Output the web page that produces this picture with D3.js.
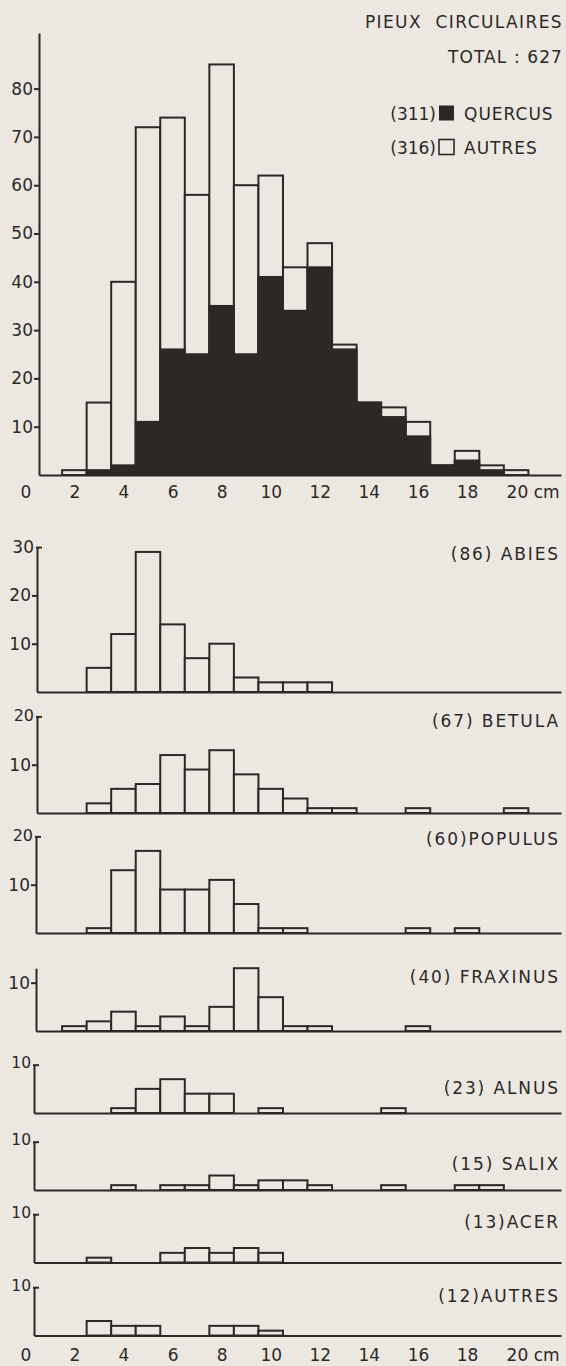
<!DOCTYPE html>
<html><head><meta charset="utf-8">
<script src="https://cdn.jsdelivr.net/npm/d3@7"></script>
<style>
body{margin:0;background:#ece8e1}
svg{display:block}
text{font-family:"DejaVu Sans",sans-serif;fill:#2b2826}
</style>
</head><body>
<svg id="c" width="566" height="1366"></svg>
<script>
// ---------- DATA ----------
const diameters = [2,3,4,5,6,7,8,9,10,11,12,13,14,15,16,17,18,19,20]; // cm
const totalAll  = [1,15,40,72,74,58,85,60,62,43,48,27,15,14,11,2,5,2,1];
const quercus   = [0,1,2,11,26,25,35,25,41,34,43,26,15,12,8,2,3,1,0];
const abies     = [0,5,12,29,14,7,10,3,2,2,2,0,0,0,0,0,0,0,0];
const betula    = [0,2,5,6,12,9,13,8,5,3,1,1,0,0,1,0,0,0,1];
const populus   = [0,1,13,17,9,9,11,6,1,1,0,0,0,0,1,0,1,0,0];
const fraxinus  = [1,2,4,1,3,1,5,13,7,1,1,0,0,0,1,0,0,0,0];
const alnus     = [0,0,1,5,7,4,4,0,1,0,0,0,0,1,0,0,0,0,0];
const salix     = [0,0,1,0,1,1,3,1,2,2,1,0,0,1,0,0,1,1,0];
const acer      = [0,1,0,0,2,3,2,3,2,0,0,0,0,0,0,0,0,0,0];
const autres    = [0,3,2,2,0,0,2,2,1,0,0,0,0,0,0,0,0,0,0];
const panelNames = ["(86) ABIES","(67) BETULA","(60)POPULUS","(40) FRAXINUS","(23) ALNUS","(15) SALIX","(13)ACER","(12)AUTRES"];
const panelValues = [abies,betula,populus,fraxinus,alnus,salix,acer,autres];
const panelTicks = [[10,20,30],[10,20],[10,20],[10],[10],[10],[10],[10]];
const topTicks = [10,20,30,40,50,60,70,80];
const xTicks = [0,2,4,6,8,10,12,14,16,18,20];
const title1 = "PIEUX  CIRCULAIRES", title2 = "TOTAL : 627";
const legendCounts = ["(311)","(316)"], legendNames = ["QUERCUS","AUTRES"];

// ---------- LAYOUT ----------
const INK = "#2b2826", PAPER = "#ece8e1";
const K = 4.83;            // px per count
const xRight = 561;
const layout = [
  {base:692,  ax:37, max:30, hook:true,  hookFont:17, hookDy:0},
  {base:813,  ax:37, max:20, hook:true,  hookFont:16, hookDy:-1},
  {base:933,  ax:36, max:20, hook:true,  hookFont:16, hookDy:-1},
  {base:1031, ax:36, max:13, hook:false},
  {base:1113, ax:34, max:10, hook:true,  hookFont:15.5, hookDy:-2},
  {base:1190, ax:34, max:10, hook:true,  hookFont:15.5, hookDy:-2},
  {base:1262.5,ax:34,max:10, hook:true,  hookFont:15.5, hookDy:-2},
  {base:1335.5,ax:34,max:10, hook:true,  hookFont:15.5, hookDy:-2}
];
const labelBaselines = [560,727,845,983,1094,1170,1228,1302];

const svg = d3.select("#c");
svg.append("rect").attr("width",566).attr("height",1366).attr("fill",PAPER);

const x = d3.scaleLinear().domain([0,20]).range([25.3,516.1]);

function bars(g, vals, y, base, fill){
  g.selectAll(null).data(diameters.map((d,i)=>({d,v:vals[i]})).filter(o=>o.v>0))
    .join("rect")
    .attr("x",o=>x(o.d-0.5)).attr("width",o=>x(o.d+0.5)-x(o.d-0.5))
    .attr("y",o=>y(o.v)).attr("height",o=>base-y(o.v))
    .attr("fill",fill).attr("stroke",INK).attr("stroke-width",2);
}

function xAxis(base, ax, labels, pad){
  const xs = x.copy().domain([x.invert(ax), x.invert(xRight)]).range([ax,xRight]);
  const g = svg.append("g").attr("transform",`translate(0,${base})`)
    .call(d3.axisBottom(xs).tickValues(labels?xTicks:[]).tickSize(0).tickSizeOuter(0).tickPadding(pad||11)
      .tickFormat(d=>d===20?"20 cm":d));
  g.select(".domain").attr("stroke",INK).attr("stroke-width",2);
  g.selectAll("text").attr("font-size",17).attr("fill",INK).style("font-family","'DejaVu Sans',sans-serif");
  g.selectAll(".tick").filter(d=>d===20).select("text").attr("text-anchor","start").attr("dx",-10);
  return g;
}

function yAxis(y, ax, ticks, hook, hookFont, hookDy){
  const g = svg.append("g").attr("transform",`translate(${ax},0)`)
    .call(d3.axisLeft(y).tickValues(ticks).tickSize(5).tickSizeOuter(0).tickPadding(1));
  g.select(".domain").attr("stroke",INK).attr("stroke-width",2);
  g.selectAll(".tick line").attr("stroke",INK).attr("stroke-width",2);
  g.selectAll("text").attr("font-size",17).attr("fill",INK).style("font-family","'DejaVu Sans',sans-serif");
  if(hook){
    const top = d3.max(ticks);
    const t = g.selectAll(".tick").filter(d=>d===top);
    t.select("line").attr("x1",-1).attr("x2",5);
    t.select("text").attr("font-size",hookFont).attr("x",-3).attr("dy",(0.32*hookFont+hookDy)+"px");
  }
  return g;
}

// ---------- TOP CHART ----------
{
  const base = 475, ax = 39;
  const y = d3.scaleLinear().domain([0,91.5]).range([base, base-91.5*K]);
  const g = svg.append("g");
  bars(g, totalAll, y, base, PAPER);
  bars(g, quercus, y, base, INK);
  yAxis(y, ax, topTicks, false);
  xAxis(base, ax, true, 11);

  svg.append("text").attr("x",563).attr("y",28).attr("text-anchor","end")
    .attr("font-size",17).attr("letter-spacing",1.4).style("white-space","pre").text(title1);
  svg.append("text").attr("x",563).attr("y",63).attr("text-anchor","end")
    .attr("font-size",17).attr("letter-spacing",1.1).style("white-space","pre").text(title2);
  const ly = [120,154];
  legendCounts.forEach((c,i)=>{
    svg.append("text").attr("x",436).attr("y",ly[i]).attr("text-anchor","end").attr("font-size",17).text(c);
    svg.append("rect").attr("x",439).attr("y",ly[i]-14.5).attr("width",15).attr("height",15)
      .attr("fill",i===0?INK:PAPER).attr("stroke",INK).attr("stroke-width",i===0?0:1.6);
    svg.append("text").attr("x",464).attr("y",ly[i]).attr("font-size",17).attr("letter-spacing",1).text(legendNames[i]);
  });
}

// ---------- SMALL PANELS ----------
panelValues.forEach((vals,i)=>{
  const L = layout[i];
  const y = d3.scaleLinear().domain([0,L.max]).range([L.base, L.base-L.max*K]);
  const g = svg.append("g");
  bars(g, vals, y, L.base, PAPER);
  yAxis(y, L.ax, panelTicks[i], L.hook, L.hookFont, L.hookDy);
  xAxis(L.base, L.ax, i===panelValues.length-1, 13);
  svg.append("text").attr("x",560).attr("y",labelBaselines[i]).attr("text-anchor","end")
    .attr("font-size",17).attr("letter-spacing",1.9).text(panelNames[i]);
});
</script>
</body></html>
